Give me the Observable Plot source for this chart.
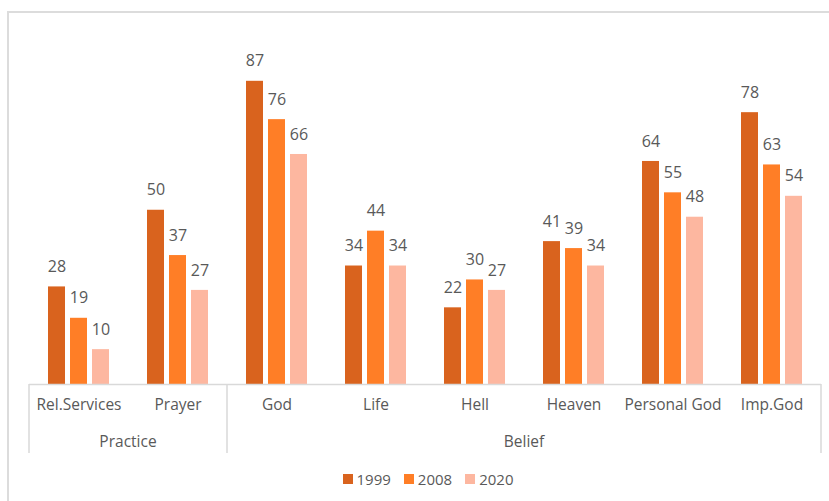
<!DOCTYPE html>
<html>
<head>
<meta charset="utf-8">
<script src="https://cdn.jsdelivr.net/npm/d3@7"></script>
<script src="https://cdn.jsdelivr.net/npm/@observablehq/plot@0.6"></script>
<style>
  html, body { margin: 0; padding: 0; background: #fff; }
  #wrap { position: relative; width: 829px; height: 501px; overflow: hidden; font-family: "Open Sans", sans-serif; }
  #frame { position: absolute; left: 7px; top: 11px; right: -4px; bottom: -4px; border-top: 2px solid #dcdcdc; border-left: 2px solid #dcdcdc; }
  #chart { position: absolute; left: 0; top: 0; }
  #legend { position: absolute; left: 0; top: 469px; width: 829px; display: flex; justify-content: center; padding-left: 27px; box-sizing: border-box; font-size: 15px; color: #595959; }
  .item { display: flex; align-items: center; margin: 0 6.5px; }
  .sw { width: 10px; height: 10px; margin-right: 4px; }
</style>
</head>
<body>
<div id="wrap">
  <div id="frame"></div>
  <div id="chart"></div>
  <div id="legend"></div>
</div>
<script>
const categories = ["Rel.Services", "Prayer", "God", "Life", "Hell", "Heaven", "Personal God", "Imp.God"];
const groupOf = ["Practice", "Practice", "Belief", "Belief", "Belief", "Belief", "Belief", "Belief"];
const groups = ["Practice", "Belief"];
const years = ["1999", "2008", "2020"];
const v1999 = [28, 50, 87, 34, 22, 41, 64, 78];
const v2008 = [19, 37, 76, 44, 30, 39, 55, 63];
const v2020 = [10, 27, 66, 34, 27, 34, 48, 54];
const colors = ["#D9631E", "#FF7E26", "#FDB7A0"];

const series = [v1999, v2008, v2020];
const data = categories.flatMap((c, i) => years.map((y, j) => ({cat: c, year: y, value: series[j][i]})));

const textColor = "#595959";
const gridColor = "#d9d9d9";

const chart = Plot.plot({
  width: 829,
  height: 460,
  marginLeft: 28,
  marginRight: 8,
  marginTop: 35.5,
  marginBottom: 76,
  style: {background: "transparent", fontFamily: "'Open Sans', sans-serif"},
  fx: {domain: categories, padding: 0, axis: null, label: null},
  x: {domain: years, paddingInner: 0.23, paddingOuter: 0.86, axis: null},
  y: {domain: [0, 100], axis: null},
  color: {domain: years, range: colors},
  marks: [
    Plot.barY(data, {fx: "cat", x: "year", y: "value", fill: "year"}),
    Plot.ruleY([0], {stroke: gridColor, strokeWidth: 1.5}),
    Plot.text(data, {fx: "cat", x: "year", y: "value", text: d => String(d.value), dy: -20, fill: textColor, fontSize: 16}),
    Plot.text(categories, {fx: d => d, text: d => d, frameAnchor: "bottom", dy: 25, fill: textColor, fontSize: 15.5})
  ]
});
document.getElementById("chart").appendChild(chart);

// group separators and group labels, positioned from the fx scale
const fx = chart.scale("fx");
const y = chart.scale("y");
const base = y.apply(0);
const svg = d3.select(chart);
const g = svg.append("g");
const bw = fx.bandwidth;
const edges = [];
groups.forEach(grp => {
  const members = categories.filter((c, i) => groupOf[i] === grp);
  const x0 = fx.apply(members[0]);
  const x1 = fx.apply(members[members.length - 1]) + bw;
  edges.push(x0, x1);
  g.append("text")
    .attr("x", (x0 + x1) / 2)
    .attr("y", base + 59)
    .attr("text-anchor", "middle")
    .attr("dominant-baseline", "middle")
    .attr("fill", textColor)
    .attr("font-size", 15.5)
    .attr("font-family", "'Open Sans', sans-serif")
    .text(grp);
});
Array.from(new Set(edges.map(e => Math.round(e * 10) / 10))).forEach(xv => {
  g.append("line")
    .attr("x1", xv).attr("x2", xv)
    .attr("y1", base).attr("y2", base + 69)
    .attr("stroke", gridColor)
    .attr("stroke-width", 1.5);
});

// legend
const legend = d3.select("#legend");
years.forEach((yr, j) => {
  const it = legend.append("div").attr("class", "item");
  it.append("div").attr("class", "sw").style("background", colors[j]);
  it.append("span").text(yr);
});
</script>
</body>
</html>
